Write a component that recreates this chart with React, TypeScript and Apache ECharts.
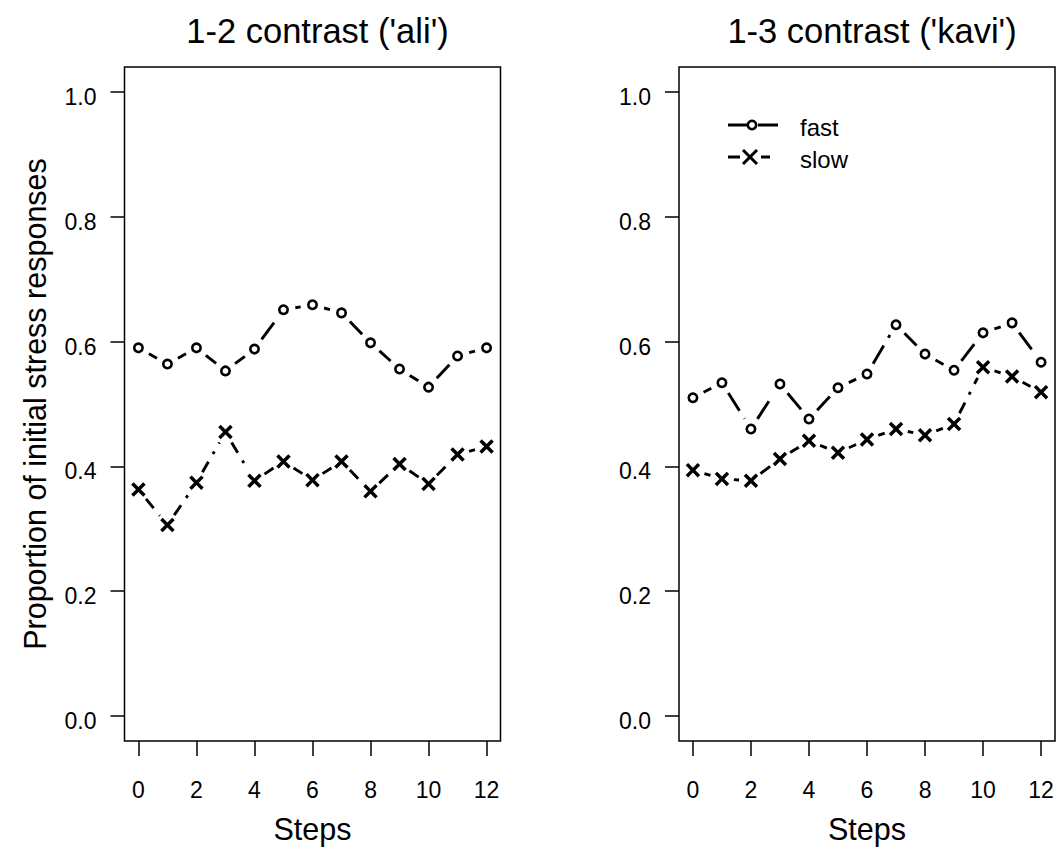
import React, { useEffect, useRef } from "react";
import * as echarts from "echarts";

const steps = [0, 1, 2, 3, 4, 5, 6, 7, 8, 9, 10, 11, 12];
const aliFast = [0.59, 0.564, 0.59, 0.553, 0.588, 0.651, 0.659, 0.646, 0.598, 0.556, 0.527, 0.577, 0.59];
const aliSlow = [0.363, 0.306, 0.374, 0.455, 0.377, 0.408, 0.378, 0.408, 0.36, 0.404, 0.372, 0.419, 0.432];
const kaviFast = [0.51, 0.534, 0.46, 0.532, 0.476, 0.526, 0.548, 0.627, 0.58, 0.554, 0.614, 0.63, 0.567];
const kaviSlow = [0.394, 0.38, 0.377, 0.412, 0.441, 0.422, 0.443, 0.46, 0.45, 0.468, 0.559, 0.544, 0.519];
const xTicks = [0, 2, 4, 6, 8, 10, 12];
const yTicks = [0, 0.2, 0.4, 0.6, 0.8, 1.0];
const titles = ["1-2 contrast ('ali')", "1-3 contrast ('kavi')"];
const seriesNames = ["fast", "slow"];
const xTitle = "Steps";
const yTitle = "Proportion of initial stress responses";

const FONT = "'Liberation Sans', Arial, Helvetica, sans-serif";
const X_PATH =
  "path://M0,1.7L1.7,0L5,3.3L8.3,0L10,1.7L6.7,5L10,8.3L8.3,10L5,6.7L1.7,10L0,8.3L3.3,5Z";
const FAST_DASH = [21, 9];
const SLOW_DASH = [12, 9, 3, 9];
const LW = 2.9;
const GAP = 12;

const panels = [
  { fast: aliFast, slow: aliSlow, left: 124.5 },
  { fast: kaviFast, slow: kaviSlow, left: 679 },
];
const GRID_W = 376;
const GRID_TOP = 67;
const GRID_H = 674;

function segmentSeries(name: string, vals: number[], idx: number, dash: number[]) {
  const data = steps.map((s, k) => [s, vals[k]]);
  return {
    name,
    type: "custom",
    xAxisIndex: idx,
    yAxisIndex: idx,
    data,
    encode: { x: 0, y: 1 },
    silent: true,
    clip: false,
    z: 2,
    renderItem: (params: any, api: any) => {
      const i = params.dataIndex;
      if (i >= data.length - 1) return { type: "group", children: [] };
      const p0 = api.coord(data[i]);
      const p1 = api.coord(data[i + 1]);
      const dx = p1[0] - p0[0];
      const dy = p1[1] - p0[1];
      const len = Math.sqrt(dx * dx + dy * dy);
      if (len <= 2 * GAP) return { type: "group", children: [] };
      const ux = dx / len;
      const uy = dy / len;
      return {
        type: "line",
        shape: {
          x1: p0[0] + ux * GAP,
          y1: p0[1] + uy * GAP,
          x2: p1[0] - ux * GAP,
          y2: p1[1] - uy * GAP,
        },
        style: { stroke: "#000", lineWidth: LW, lineDash: dash, lineCap: "butt", fill: "none" },
      };
    },
  };
}

export default function App() {
  const ref = useRef<HTMLDivElement>(null);
  useEffect(() => {
    if (!ref.current) return;
    const chart = echarts.init(ref.current, undefined, { renderer: "svg" });

    const grids = panels.map((p) => ({
      left: p.left,
      top: GRID_TOP,
      width: GRID_W,
      height: GRID_H,
      show: true,
      borderColor: "#000",
      borderWidth: 1.5,
      backgroundColor: "transparent",
    }));

    const xAxes = panels.map((_, i) => ({
      type: "value",
      gridIndex: i,
      position: "bottom",
      min: -0.48,
      max: 12.48,
      axisLine: { show: false, onZero: false },
      splitLine: { show: false },
      axisTick: {
        show: true,
        inside: false,
        length: 15,
        customValues: xTicks,
        lineStyle: { color: "#000", width: 1.5 },
      },
      axisLabel: {
        customValues: xTicks,
        margin: 37,
        fontSize: 23,
        color: "#000",
        fontFamily: FONT,
        formatter: (v: number) => String(Math.round(v)),
      },
      name: xTitle,
      nameLocation: "middle",
      nameGap: 72,
      nameTextStyle: { fontSize: 30.5, color: "#000", fontFamily: FONT },
    }));

    const yAxes = panels.map((_, i) => ({
      type: "value",
      gridIndex: i,
      position: "left",
      min: -0.04,
      max: 1.04,
      axisLine: { show: false, onZero: false },
      splitLine: { show: false },
      axisTick: {
        show: true,
        inside: false,
        length: 14,
        customValues: yTicks,
        lineStyle: { color: "#000", width: 1.5 },
      },
      axisLabel: {
        customValues: yTicks,
        margin: 28,
        color: "#000",
        formatter: (v: number) => "{t|" + v.toFixed(1) + "}",
        rich: {
          t: { fontSize: 23, fontFamily: FONT, color: "#000", padding: [10, 0, 0, 0] },
        },
      },
      name: i === 0 ? yTitle : "",
      nameLocation: "middle",
      nameGap: 74,
      nameTextStyle: { fontSize: 30.5, color: "#000", fontFamily: FONT },
    }));

    const series: any[] = [];
    panels.forEach((p, i) => {
      series.push(segmentSeries(seriesNames[0], p.fast, i, FAST_DASH));
      series.push(segmentSeries(seriesNames[1], p.slow, i, SLOW_DASH));
      series.push({
        name: seriesNames[0],
        type: "scatter",
        xAxisIndex: i,
        yAxisIndex: i,
        data: steps.map((s, k) => [s, p.fast[k]]),
        symbol: "circle",
        symbolSize: 8.4,
        silent: true,
        z: 4,
        itemStyle: { color: "rgba(0,0,0,0)", borderColor: "#000", borderWidth: 2.6, opacity: 1 },
      });
      series.push({
        name: seriesNames[1],
        type: "scatter",
        xAxisIndex: i,
        yAxisIndex: i,
        data: steps.map((s, k) => [s, p.slow[k]]),
        symbol: X_PATH,
        symbolSize: 14.5,
        silent: true,
        z: 4,
        itemStyle: { color: "#000", opacity: 1 },
      });
    });

    const legendGraphic = [
      {
        type: "line",
        shape: { x1: 728, y1: 125, x2: 778, y2: 125 },
        style: { stroke: "#000", lineWidth: LW, lineDash: FAST_DASH, lineCap: "butt" },
        z: 10,
      },
      {
        type: "circle",
        shape: { cx: 752, cy: 125, r: 4.2 },
        style: { fill: "#fff", stroke: "#000", lineWidth: 2.6 },
        z: 11,
      },
      {
        type: "text",
        x: 800,
        y: 127,
        style: {
          text: seriesNames[0],
          fontSize: 24,
          fontFamily: FONT,
          fill: "#000",
          verticalAlign: "middle",
          align: "left",
        },
        z: 10,
      },
      {
        type: "line",
        shape: { x1: 728, y1: 157, x2: 770, y2: 157 },
        style: { stroke: "#000", lineWidth: LW, lineDash: SLOW_DASH, lineCap: "butt" },
        z: 10,
      },
      {
        type: "line",
        shape: { x1: 743, y1: 150, x2: 757, y2: 164 },
        style: { stroke: "#000", lineWidth: 3 },
        z: 11,
      },
      {
        type: "line",
        shape: { x1: 743, y1: 164, x2: 757, y2: 150 },
        style: { stroke: "#000", lineWidth: 3 },
        z: 11,
      },
      {
        type: "text",
        x: 800,
        y: 159,
        style: {
          text: seriesNames[1],
          fontSize: 24,
          fontFamily: FONT,
          fill: "#000",
          verticalAlign: "middle",
          align: "left",
        },
        z: 10,
      },
    ];

    chart.setOption({
      animation: false,
      backgroundColor: "#fff",
      title: panels.map((p, i) => ({
        text: titles[i],
        left: p.left + GRID_W / 2,
        top: 8,
        textAlign: "center",
        textStyle: { fontSize: 34.5, fontWeight: "normal", color: "#000", fontFamily: FONT },
      })),
      grid: grids,
      xAxis: xAxes,
      yAxis: yAxes,
      series,
      graphic: legendGraphic,
    });

    return () => chart.dispose();
  }, []);

  return (
    <div
      ref={ref}
      style={{ position: "fixed", left: 0, top: 0, width: 1061, height: 855, background: "#fff" }}
    />
  );
}
